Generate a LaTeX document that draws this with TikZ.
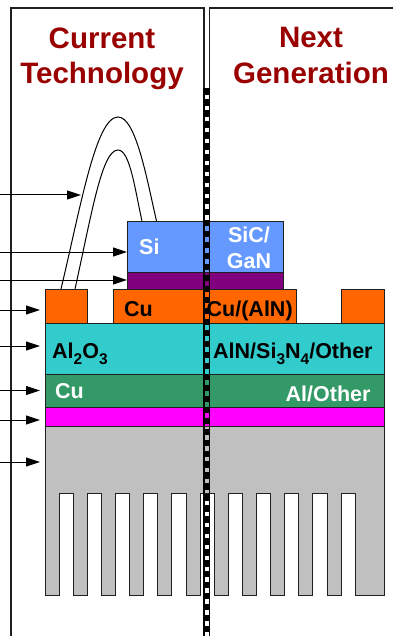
\documentclass[tikz,border=0pt]{standalone}
\usepackage{fontspec}
\setmainfont{Liberation Sans}
\usepackage{xcolor}
\usepackage{tikz}
\usetikzlibrary{arrows.meta}
\definecolor{headred}{HTML}{990000}
\definecolor{dieblue}{HTML}{6699FF}
\definecolor{attachpurple}{HTML}{800080}
\definecolor{padorange}{HTML}{FF6600}
\definecolor{ceramiccyan}{HTML}{33CCCC}
\definecolor{basegreen}{HTML}{339966}
\definecolor{tim}{HTML}{FF00FF}
\definecolor{sinkgrey}{HTML}{C0C0C0}
\definecolor{rulegrey}{HTML}{202020}
\newcommand{\lowidx}[1]{\raisebox{-6.5pt}{\fontsize{15.5}{15.5}\selectfont #1}}

\begin{document}
\begin{tikzpicture}[
    x=1pt, y=-1pt,
    >={Triangle[length=14pt,width=9pt]},
    frame/.style={draw=rulegrey, line width=1.1pt},
    layer/.style={draw=rulegrey, line width=1pt, inner sep=0pt, outer sep=0pt, anchor=north west},
    wire/.style={draw=black, line width=1pt},
    pointer/.style={->, draw=black, line width=1pt, shorten >=5pt},
    head/.style={font=\fontsize{29.5}{35}\selectfont\bfseries, text=headred, inner sep=0pt, anchor=base},
    lbl/.style={font=\fontsize{21.5}{26}\selectfont\bfseries, inner sep=0pt, anchor=base west},
    wlbl/.style={lbl, text=white},
  ]
    \useasboundingbox (0,0) rectangle (393,636);

    % panels
    \draw[frame] (11,636) -- (11,8) -- (204,8) -- (204,636);
    \draw[frame] (393,8) -- (209.5,8) -- (209.5,636);

    % titles
    \node[head] (cur1) at (102,48.7) {Current};
    \node[head] (cur2) at (102,83.3) {Technology};
    \node[head] (nxt1) at (311,48) {Next};
    \node[head] (nxt2) at (311,83.3) {Generation};

    % bond wires
    \coordinate (wirea) at (61,289);
    \coordinate (wireb) at (75,289);
    \coordinate (wirec) at (142,221);
    \coordinate (wired) at (156.5,221);
    \draw[wire] (wirea) .. controls (81,205) and (96,117) .. (118,117)
                        .. controls (136,117) and (147,180) .. (wired);
    \draw[wire] (wireb) .. controls (92,212) and (102,150) .. (118,150)
                        .. controls (130,150) and (135,190) .. (wirec);

    % heat sink
    \draw[layer, fill=sinkgrey] (45,426) -- (45,595)
      \foreach \fx [evaluate=\fx as \fr using \fx+14.2] in {59,87.2,115.4,143.6,171.8,200,228.2,256.4,284.6,312.8,341}
        { -- (\fx,595) -- (\fx,493.3) -- (\fr,493.3) -- (\fr,595) }
      -- (384,595) -- (384,426) -- cycle;
    \coordinate (sink) at (45,462);

    % layers
    \node[layer, fill=tim, minimum width=339pt, minimum height=19pt] (timlay) at (45,407) {};
    \node[layer, fill=basegreen, minimum width=339pt, minimum height=33pt] (base) at (45,374) {};
    \node[layer, fill=ceramiccyan, minimum width=339pt, minimum height=51pt] (ceramic) at (45,323) {};
    \node[layer, fill=padorange, minimum width=42.5pt, minimum height=34pt] (padl) at (45,289) {};
    \node[layer, fill=padorange, minimum width=183pt, minimum height=34pt] (padm) at (113.5,289) {};
    \node[layer, fill=padorange, minimum width=43pt, minimum height=34pt] (padr) at (341,289) {};
    \node[layer, fill=attachpurple, minimum width=155.5pt, minimum height=17pt] (attach) at (127.5,272) {};
    \node[layer, fill=dieblue, minimum width=155.5pt, minimum height=51pt] (die) at (127.5,221) {};

    % labels
    \node[wlbl] (lsi) at (139,254) {Si};
    \node[wlbl, anchor=center, align=center] (lsic) at (249,247.5) {SiC/\\GaN};
    \node[lbl] (lcu) at (124,316) {Cu};
    \node[lbl] (lcualn) at (206.5,316) {Cu/(AlN)};
    \node[lbl] (lalo) at (52,358) {Al\lowidx{2}O\lowidx{3}};
    \node[lbl] (laln) at (213,358) {AlN/Si\lowidx{3}N\lowidx{4}/Other};
    \node[wlbl] (lbase) at (55,398) {Cu};
    \node[wlbl] (lother) at (285.5,401) {Al/Other};

    % pointers
    \coordinate (p1) at (0,195);
    \coordinate (p2) at (0,252);
    \coordinate (p3) at (0,280);
    \coordinate (p4) at (0,310);
    \coordinate (p5) at (0,346);
    \coordinate (p6) at (0,390.5);
    \coordinate (p7) at (0,420);
    \coordinate (p8) at (0,462);
    \coordinate (wiret) at (86,195);
    \draw[pointer] (p1) -- (wiret);
    \draw[pointer, shorten >=0.5pt] (p2) -- (p2 -| die.west);
    \draw[pointer, shorten >=0.5pt] (p3) -- (p3 -| attach.west);
    \draw[pointer] (p4) -- (p4 -| padl.west);
    \draw[pointer] (p5) -- (p5 -| ceramic.west);
    \draw[pointer] (p6) -- (p6 -| base.west);
    \draw[pointer] (p7) -- (p7 -| timlay.west);
    \draw[pointer] (p8) -- (sink);

    % divider
    \coordinate (divt) at (206.8,88.5);
    \coordinate (divb) at (206.8,636);
    \draw[black, line width=1.4pt] ([xshift=-2.9pt]divt) -- ([xshift=-2.9pt]divb);
    \draw[black, line width=1.4pt] ([xshift=2.9pt]divt) -- ([xshift=2.9pt]divb);
    \draw[black, line width=4.6pt, dash pattern=on 6.3pt off 4.67pt] (divt) -- (divb);
\end{tikzpicture}
\end{document}
